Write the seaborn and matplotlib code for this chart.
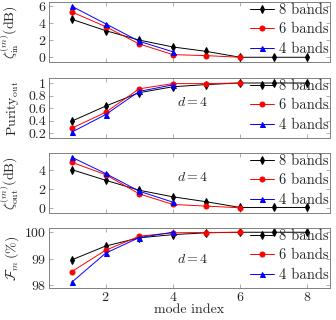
import matplotlib
matplotlib.use("Agg")
import matplotlib.pyplot as plt
import seaborn as sns

sns.set_style("ticks")
plt.rcParams["font.family"] = ["cmr10", "DejaVu Serif"]
plt.rcParams["mathtext.fontset"] = "cm"
plt.rcParams["axes.formatter.use_mathtext"] = True
plt.rcParams["font.size"] = 10

modes8 = [1, 2, 3, 4, 5, 6, 7, 8]
modes6 = [1, 2, 3, 4, 5, 6]
modes4 = [1, 2, 3, 4]

zin_8 = [4.42, 3.1, 2.0, 1.2, 0.68, 0.0, 0.0, 0.0]
zin_6 = [5.27, 3.57, 1.55, 0.31, 0.19, 0.0]
zin_4 = [5.93, 3.9, 1.86, 0.64]

pur_8 = [0.39, 0.63, 0.845, 0.94, 0.975, 1.0, 1.0, 1.0]
pur_6 = [0.277, 0.53, 0.907, 0.99, 0.99, 1.0]
pur_4 = [0.215, 0.494, 0.866, 0.97]

zout_8 = [4.0, 2.89, 1.84, 1.15, 0.63, 0.03, 0.03, 0.03]
zout_6 = [4.77, 3.48, 1.46, 0.35, 0.17, 0.0]
zout_4 = [5.3, 3.6, 1.74, 0.59]

fid_8 = [98.96, 99.48, 99.79, 99.91, 99.98, 100.0, 100.0, 100.0]
fid_6 = [98.52, 99.32, 99.85, 99.98, 99.99, 100.0]
fid_4 = [98.12, 99.21, 99.8, 100.0]

panels = [
    (zin_8, zin_6, zin_4, r"$\zeta_{\rm in}^{(m)}$(dB)", (-0.55, 6.43), [0, 2, 4, 6], None),
    (pur_8, pur_6, pur_4, r"${\rm Purity}_{\rm out}$", (0.12, 1.08), [0.2, 0.4, 0.6, 0.8, 1.0], 0.69),
    (zout_8, zout_6, zout_4, r"$\zeta_{\rm out}^{(m)}$(dB)", (-0.55, 5.75), [0, 2, 4], 3.13),
    (fid_8, fid_6, fid_4, r"$\mathcal{F}_m\,(\%)$", (97.9, 100.16), [98, 99, 100], 98.99),
]

fig = plt.figure(figsize=(3.36, 3.2), dpi=100)
tops = [2, 78, 153, 228]
for i, (s8, s6, s4, ylab, ylim, yticks, dy) in enumerate(panels):
    ax = fig.add_axes([49 / 336, 1 - (tops[i] + 60) / 320, 281 / 336, 60 / 320])
    sns.lineplot(x=modes8, y=s8, ax=ax, color="black", marker="d", markersize=3.6,
                 markeredgecolor="black", lw=0.7, label="8 bands")
    sns.lineplot(x=modes6, y=s6, ax=ax, color="red", marker="o", markersize=3.6,
                 markeredgecolor="red", lw=0.7, label="6 bands")
    sns.lineplot(x=modes4, y=s4, ax=ax, color="blue", marker="^", markersize=3.6,
                 markeredgecolor="blue", lw=0.7, label="4 bands")
    ax.set_xlim(0.32, 8.67)
    ax.set_ylim(*ylim)
    ax.set_yticks(yticks)
    if i == 1:
        ax.set_yticklabels(["0.2", "0.4", "0.6", "0.8", "1"])
    ax.set_xticks([2, 4, 6, 8])
    ax.tick_params(direction="in", top=True, right=True, color="#a0a0a0",
                   length=3, width=0.6, labelsize=10, pad=2)
    for sp in ax.spines.values():
        sp.set_color("#808080")
        sp.set_linewidth(0.7)
    ax.set_ylabel(ylab, fontsize=10)
    ax.yaxis.set_label_coords(-0.1, 0.5)
    if i < 3:
        ax.set_xticklabels([])
        ax.set_xlabel("")
    else:
        ax.set_xlabel("mode index", fontsize=10, labelpad=0)
    if dy is not None:
        ax.text(4.6, dy, r"$d=4$", ha="center", va="center", fontsize=10)
    ax.legend(loc="upper right", frameon=False, fontsize=10.5, handlelength=1.65,
              borderpad=0.0, labelspacing=0.38, handletextpad=0.3, borderaxespad=0.1)

fig.savefig("out.png", dpi=100)
